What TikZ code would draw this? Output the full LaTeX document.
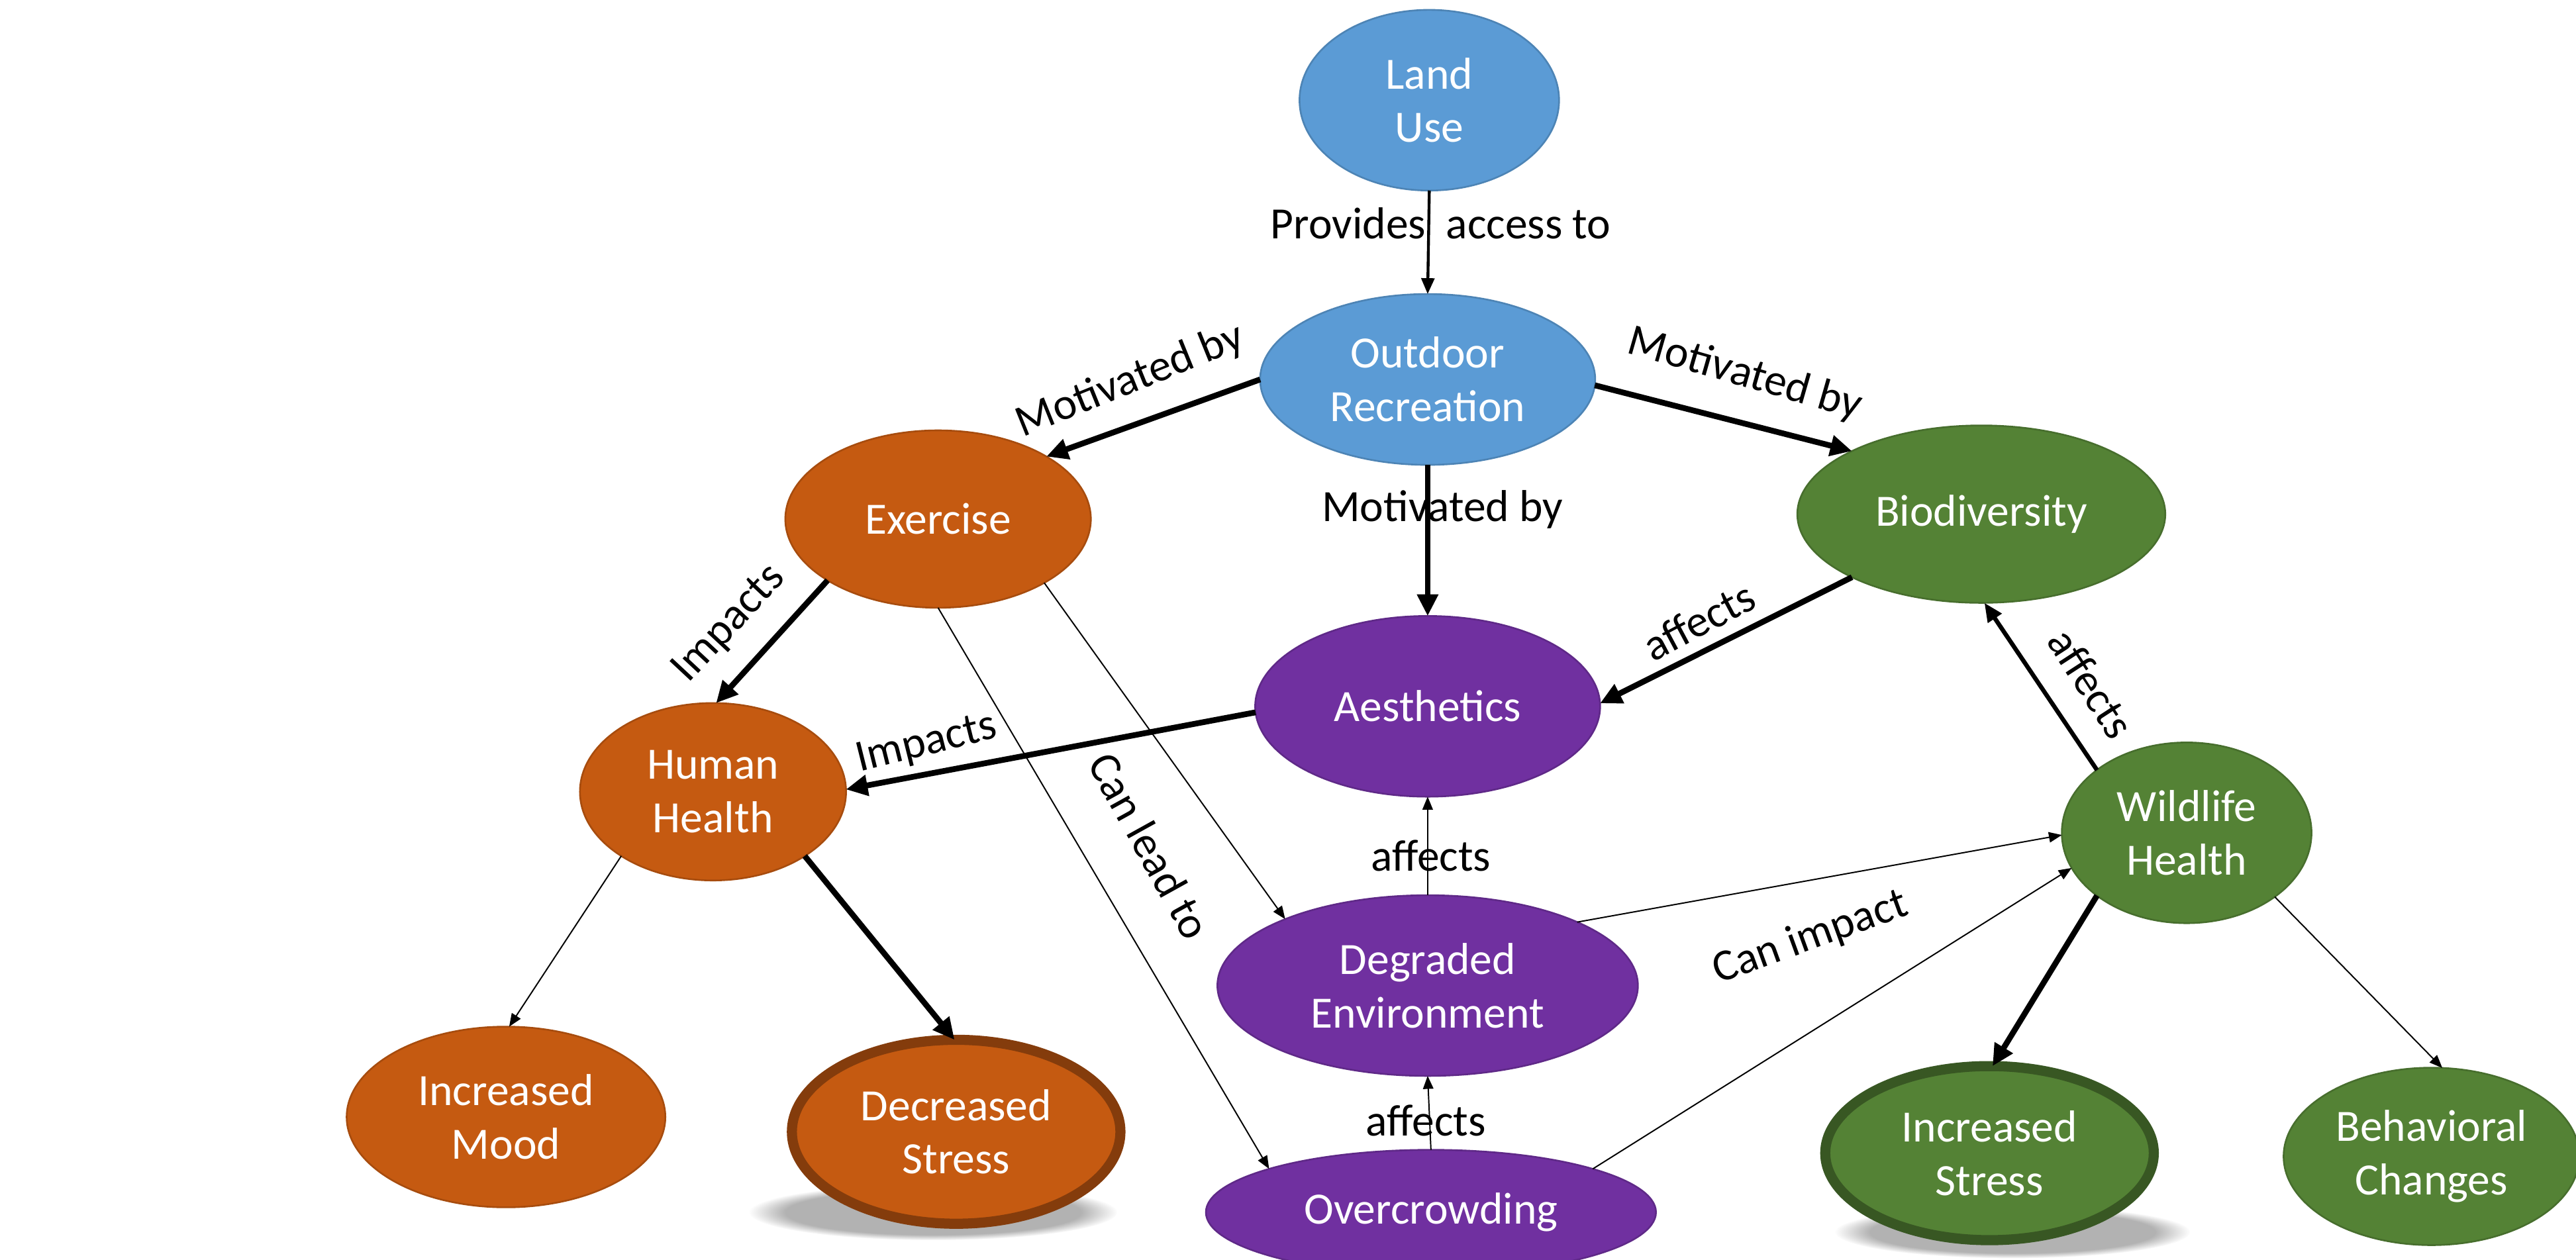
\documentclass[tikz,border=0pt]{standalone}
\usepackage{fontspec}
\setmainfont{Carlito}
\usepackage{xcolor}
\usepackage{tikz}
\usetikzlibrary{arrows.meta,shapes.geometric,fadings}
\definecolor{offblue}{HTML}{5B9BD5}
\definecolor{offorange}{HTML}{C55A11}
\definecolor{offgreen}{HTML}{548235}
\definecolor{offpurple}{HTML}{7030A0}
\definecolor{rimorange}{HTML}{843C0C}
\definecolor{rimgreen}{HTML}{385723}
\tikzset{
  concept/.style={ellipse,inner sep=-0.6cm,outer sep=0pt,align=center,text=white,line width=0.6pt,font=\fontsize{15.5}{18.5}\selectfont},
  bluenode/.style={concept,fill=offblue,draw=offblue!85!black},
  orangenode/.style={concept,fill=offorange,draw=offorange!85!black},
  greennode/.style={concept,fill=offgreen,draw=offgreen!85!black},
  purplenode/.style={concept,fill=offpurple,draw=offpurple!85!black},
  rimnode/.style={line width=3.5pt},
  lbl/.style={inner sep=0pt,font=\fontsize{15.5}{18}\selectfont},
  thinedge/.style={->,>={Triangle[length=4.5pt,width=3.6pt]},line width=0.45pt},
  midedge/.style={->,>={Triangle[length=5.5pt,width=4.5pt]},line width=1pt},
  wideedge/.style={->,>={Triangle[length=6.5pt,width=5.5pt]},line width=1.5pt},
  thickedge/.style={->,>={Triangle[length=7.5pt,width=7pt]},line width=2pt},
  shadowfill/.style={black!30,path fading=circle with fuzzy edge 20 percent},
}

\begin{document}
\begin{tikzpicture}[x=0.02cm,y=-0.02cm]
  \useasboundingbox (0,0) rectangle (1568,767);
  \clip (0,0) rectangle (1568,767);
  \fill[shadowfill] (568,738) ellipse [x radius=112, y radius=17];
  \fill[shadowfill] (1225,750) ellipse [x radius=108, y radius=16];

  \node[bluenode,minimum width=3.16cm,minimum height=2.2cm] (landuse) at (870,61) {Land\\Use};
  \node[bluenode,minimum width=4.08cm,minimum height=2.08cm] (outdoor) at (869,231) {Outdoor\\Recreation};
  \node[orangenode,minimum width=3.72cm,minimum height=2.16cm] (exercise) at (571,316) {Exercise};
  \node[greennode,minimum width=4.48cm,minimum height=2.16cm] (biodiv) at (1206,313) {Biodiversity};
  \node[purplenode,minimum width=4.2cm,minimum height=2.2cm] (aesth) at (869,430) {Aesthetics};
  \node[orangenode,minimum width=3.24cm,minimum height=2.16cm] (human) at (434,482) {Human\\Health};
  \node[greennode,minimum width=3.04cm,minimum height=2.2cm] (wildlife) at (1331,507) {Wildlife\\Health};
  \node[purplenode,minimum width=5.12cm,minimum height=2.2cm] (degraded) at (869,600) {Degraded\\Environment};
  \node[purplenode,minimum width=5.48cm,minimum height=1.52cm] (crowd) at (871,738) {Overcrowding};
  \node[orangenode,minimum width=3.88cm,minimum height=2.2cm] (mood) at (308,680) {Increased\\Mood};
  \node[orangenode,rimnode,draw=rimorange,minimum width=4.0cm,minimum height=2.24cm] (dstress) at (582,689) {Decreased\\Stress};
  \node[greennode,rimnode,draw=rimgreen,minimum width=4.0cm,minimum height=2.12cm] (istress) at (1211,702) {Increased\\Stress};
  \node[greennode,minimum width=3.6cm,minimum height=2.16cm] (behav) at (1480,704) {Behavioral\\Changes};

  \draw[midedge] (landuse.south) -- (outdoor.north);
  \draw[thickedge] (outdoor.180) -- (exercise.30);
  \draw[thickedge] (outdoor.-2) -- (biodiv.154);
  \draw[thickedge] (outdoor.south) -- (aesth.north);
  \draw[thickedge] (biodiv.206) -- (aesth.1);
  \draw[wideedge] (wildlife.145) -- (biodiv.-88);
  \draw[thickedge] (aesth.182) -- (human.1);
  \draw[thickedge] (exercise.209) -- (human.88);
  \draw[thinedge] (human.215) -- (mood.88);
  \draw[thickedge] (human.-35) -- (dstress.91);
  \draw[thinedge] (exercise.-31) -- (degraded.155);
  \draw[thinedge] (exercise.south) -- (crowd.165);
  \draw[thinedge] (degraded.north) -- (aesth.south);
  \draw[thinedge] (crowd.north) -- (degraded.south);
  \draw[thinedge] (degraded.23) -- (wildlife.181);
  \draw[thinedge] (crowd.15) -- (wildlife.197);
  \draw[thickedge] (wildlife.215) -- (istress.88);
  \draw[thinedge] (wildlife.-36) -- (behav.83);

  \node[lbl] (tprovides) at (877,136) {Provides~~access to};
  \node[lbl,rotate=22] (tmotexer) at (688,232) {Motivated by};
  \node[lbl,rotate=-16] (tmotbio) at (1062,228) {Motivated by};
  \node[lbl] (tmotaes) at (878,310) {Motivated by};
  \node[lbl,rotate=28] (taffaes) at (1034,378) {affects};
  \node[lbl,rotate=-57] (taffbio) at (1273,416) {affects};
  \node[lbl,rotate=47] (timpexer) at (444,380) {Impacts};
  \node[lbl,rotate=14] (timpaes) at (564,453) {Impacts};
  \node[lbl,rotate=-61] (tlead) at (700,515) {Can lead to};
  \node[lbl] (taffdeg) at (871,521) {affects};
  \node[lbl] (taffcrowd) at (868,682) {affects};
  \node[lbl,rotate=20] (tcanimp) at (1102,571) {Can impact};
\end{tikzpicture}
\end{document}
